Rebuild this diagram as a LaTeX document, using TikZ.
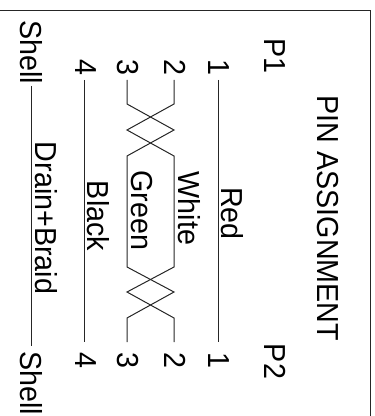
\documentclass[tikz,border=0pt]{standalone}
\usepackage{fontspec}
\setmainfont{Liberation Sans}
\newcommand{\tallish}[1]{\scalebox{1}[1.06]{#1}}
\tikzset{lbl/.style={rotate=-90,inner sep=0pt,anchor=center,font=\fontsize{21.5pt}{23pt}\selectfont,text=black},
wire/.style={draw=black!85,line width=0.75pt}}
\begin{document}
\begin{tikzpicture}[x=0.75pt,y=-0.75pt]
\useasboundingbox (0,0) rectangle (374,416);
\draw[line width=0.9pt,draw=black!85] (0,10.5) -- (370.5,10.5) -- (370.5,416);
\node[lbl] (title) at (327.5,218.5) {\tallish{PIN ASSIGNMENT}};
\node[lbl] (p1) at (275,56) {\tallish{P1}};
\node[lbl] (p2) at (275,361.5) {\tallish{P2}};
\node[lbl] (s1) at (31,52) {\tallish{Shell}};
\node[lbl] (s2) at (31,383.5) {\tallish{Shell}};
\node[lbl] (a1) at (219,67) {\tallish{1}};
\node[lbl] (a2) at (175.5,67) {\tallish{2}};
\node[lbl] (a3) at (128,67) {\tallish{3}};
\node[lbl] (a4) at (85.5,67) {\tallish{4}};
\node[lbl] (b1) at (219,360) {\tallish{1}};
\node[lbl] (b2) at (175.5,360) {\tallish{2}};
\node[lbl] (b3) at (128,360) {\tallish{3}};
\node[lbl] (b4) at (85.5,360) {\tallish{4}};
\node[lbl] (red) at (232.5,213.5) {\tallish{Red}};
\node[lbl] (white) at (189,208.5) {\tallish{White}};
\node[lbl] (green) at (141.5,210.5) {\tallish{Green}};
\node[lbl] (black) at (98.5,216) {\tallish{Black}};
\node[lbl] (drain) at (46,218) {\tallish{Drain+Braid}};
\draw[wire] (218.5,80) -- (218.5,342);
\draw[wire] (84,80) -- (84,342);
\draw[wire] (31,86) -- (31,346);
\draw[wire] (174,80) -- (174,104) -- (127,130) -- (174,156) -- (174,267) -- (127,292) -- (174,318) -- (174,342);
\draw[wire] (127,80) -- (127,104) -- (174,130) -- (127,156) -- (127,267) -- (174,292) -- (127,318) -- (127,342);
\end{tikzpicture}
\end{document}
